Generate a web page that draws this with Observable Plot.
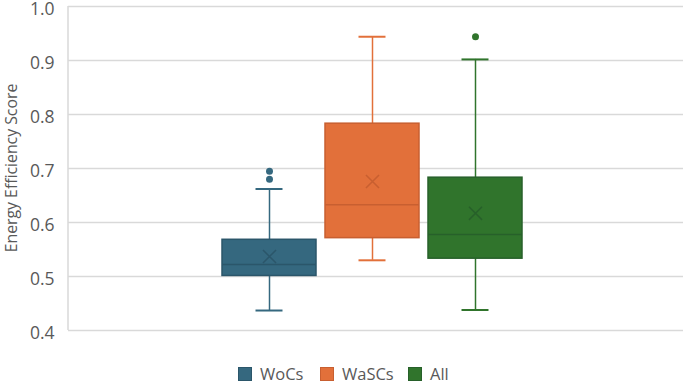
<!DOCTYPE html>
<html>
<head>
<meta charset="utf-8">
<script src="https://cdn.jsdelivr.net/npm/d3@7"></script>
<script src="https://cdn.jsdelivr.net/npm/@observablehq/plot@0.6"></script>
<style>
  html, body { margin: 0; padding: 0; background: #fff; }
  body { width: 685px; height: 384px; overflow: hidden; font-family: "Open Sans", "Noto Sans", sans-serif; }
  #legend { height: 34px; position: relative; }
  .item { position: absolute; display: flex; align-items: center; font-size: 16.5px; color: #595959; top: 12px; }
  .sw { width: 14px; height: 14px; margin-right: 8px; box-sizing: border-box; }
</style>
</head>
<body>
<div id="chart"></div>
<div id="legend"></div>
<script>
const groups = ["WoCs", "WaSCs", "All"];
const colors = ["#35687f", "#e2703a", "#30742c"];
const strokes = ["#2b566a", "#c85f30", "#27602a"];
const q1 = [0.501, 0.571, 0.533];
const q3 = [0.568, 0.783, 0.683];
const medians = [0.522, 0.633, 0.578];
const means = [0.537, 0.676, 0.617];
const whiskerLow = [0.437, 0.530, 0.438];
const whiskerHigh = [0.662, 0.944, 0.902];
const outlierGroup = ["WoCs", "WoCs", "All"];
const outlierValue = [0.695, 0.680, 0.944];
const yTicks = [0.4, 0.5, 0.6, 0.7, 0.8, 0.9, 1.0];

const stats = groups.map((g, i) => ({
  g, q1: q1[i], q3: q3[i], median: medians[i], mean: means[i],
  lo: whiskerLow[i], hi: whiskerHigh[i]
}));
const outliers = outlierGroup.map((g, i) => ({g, v: outlierValue[i]}));

const chart = Plot.plot({
  width: 685,
  height: 350,
  marginTop: 6,
  marginBottom: 20,
  marginLeft: 68,
  marginRight: 2,
  style: {fontFamily: "'Open Sans', 'Noto Sans', sans-serif", fontSize: "17.5px", color: "#595959", background: "#fff", overflow: "visible"},
  x: {domain: groups, range: [211.5, 532.5], padding: 0.087, axis: null},
  y: {domain: [0.4, 1.0], ticks: yTicks, tickFormat: d3.format(".1f"), label: null},
  color: {domain: groups, range: colors},
  marks: [
    Plot.ruleY(yTicks, {stroke: "#d9d9d9", strokeWidth: 1.5}),
    Plot.axisY({ticks: yTicks, tickFormat: d3.format(".1f"), tickSize: 0, tickPadding: 14, fontSize: 17.5, fill: "#595959", dy: 3, label: null}),
    Plot.ruleX(stats, {x: "g", y1: "lo", y2: "q1", stroke: (d) => d.g, strokeWidth: 1.5}),
    Plot.ruleX(stats, {x: "g", y1: "q3", y2: "hi", stroke: (d) => d.g, strokeWidth: 1.5}),
    Plot.tickY(stats, {x: "g", y: "lo", stroke: (d) => d.g, strokeWidth: 2, insetLeft: 33.5, insetRight: 33.5}),
    Plot.tickY(stats, {x: "g", y: "hi", stroke: (d) => d.g, strokeWidth: 2, insetLeft: 33.5, insetRight: 33.5}),
    Plot.barY(stats, {x: "g", y1: "q1", y2: "q3", fill: (d) => d.g, stroke: (d, i) => strokes[i], strokeWidth: 1.5}),
    Plot.tickY(stats, {x: "g", y: "median", stroke: (d, i) => strokes[i], strokeWidth: 1.5}),
    Plot.dot(stats, {x: "g", y: "mean", symbol: "times", r: 6, stroke: (d, i) => strokes[i], strokeWidth: 1.5}),
    Plot.dot(outliers, {x: "g", y: "v", r: 3.5, fill: (d) => d.g, stroke: "none"})
  ]
});
document.getElementById("chart").appendChild(chart);

const svg = d3.select(chart);
// left axis line, placed through the chart's own y scale
const ys = chart.scale("y");
const yAt = (v) => ys.apply(v);
svg.append("line")
  .attr("x1", 68).attr("x2", 68)
  .attr("y1", yAt(yTicks[0])).attr("y2", yAt(yTicks[yTicks.length - 1]))
  .attr("stroke", "#d9d9d9").attr("stroke-width", 1.5);

// y-axis title
svg.append("text")
  .attr("transform", "translate(17,168) rotate(-90)")
  .attr("text-anchor", "middle")
  .attr("font-size", 15.8)
  .attr("fill", "#595959")
  .text("Energy Efficiency Score");

const legend = document.getElementById("legend");
const lx = [238, 320, 408];
groups.forEach((g, i) => {
  const item = document.createElement("div");
  item.className = "item";
  item.style.left = lx[i] + "px";
  const sw = document.createElement("div");
  sw.className = "sw";
  sw.style.background = colors[i];
  sw.style.border = "1px solid " + strokes[i];
  const t = document.createElement("span");
  t.textContent = g;
  item.appendChild(sw);
  item.appendChild(t);
  legend.appendChild(item);
});
</script>
</body>
</html>
